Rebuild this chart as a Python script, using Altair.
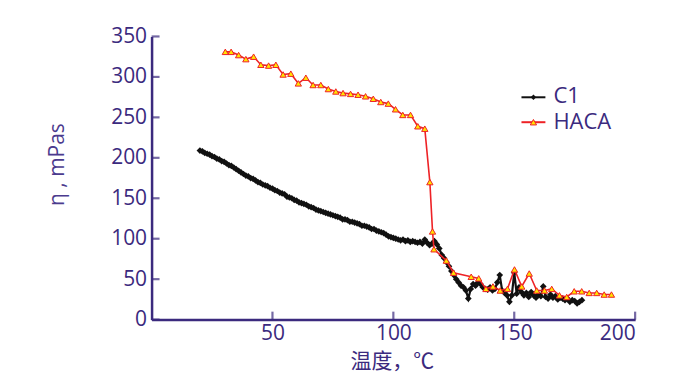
import altair as alt
import pandas as pd

# ---- data ----
c1_temp = [20, 21, 22, 23, 24, 25, 26, 27, 28, 29, 30, 31, 32, 33, 34, 35, 36, 37, 38, 39,
           40, 41, 42, 43, 44, 45, 46, 47, 48, 49, 50, 51, 52, 53, 54, 55, 56, 57, 58, 59,
           60, 61, 62, 63, 64, 65, 66, 67, 68, 69, 70, 71, 72, 73, 74, 75, 76, 77, 78, 79,
           80, 81, 82, 83, 84, 85, 86, 87, 88, 89, 90, 91, 92, 93, 94, 95, 96, 97, 98, 99,
           100, 101, 102, 103, 104, 105, 106, 107, 108, 109, 110, 111, 112, 113, 114, 115, 116, 117, 118, 119,
           120, 121, 122, 123, 124, 125, 126, 127, 128, 129, 130, 131, 132, 133, 134, 135, 136, 137, 138, 139,
           140, 141, 142, 143, 144, 145, 146, 147, 148, 149, 150, 151, 152, 153, 154, 155, 156, 157, 158, 159,
           160, 161, 162, 163, 164, 165, 166, 167, 168, 169, 170, 171, 172, 173, 174, 175, 176, 177, 178]
c1_visc = [209, 208, 206, 205, 204, 202, 201, 199, 198, 196, 195, 193, 191, 190, 188, 186, 184, 182, 180, 178,
           177, 175, 174, 172, 170, 169, 167, 166, 165, 163, 162, 160, 159, 157, 156, 155, 152, 151, 150, 148,
           147, 145, 144, 143, 142, 140, 139, 138, 136, 135, 134, 133, 132, 131, 130, 129, 128, 127, 126, 124,
           124, 123, 121, 121, 120, 119, 118, 116, 116, 115, 114, 112, 112, 110, 109, 108, 107, 105, 103, 102,
           101, 100, 99, 98, 99, 97, 98, 96, 97, 96, 95, 96, 94, 99, 95, 92, 94, 97, 93, 88,
           80, 76, 71, 66, 60, 55, 50, 46, 42, 40, 36, 26, 38, 44, 42, 46, 44, 40, 38, 37,
           40, 36, 38, 46, 55, 36, 33, 30, 22, 30, 58, 32, 40, 34, 30, 33, 28, 34, 30, 27,
           31, 29, 41, 28, 26, 31, 27, 29, 25, 27, 26, 24, 26, 22, 24, 23, 20, 22, 24]

haca_temp = [30.5, 32.9, 36.0, 39.0, 42.2, 45.2, 48.4, 51.4, 54.4, 57.6, 60.7, 63.8, 66.8, 70.0,
             73.1, 76.2, 79.2, 82.3, 85.4, 88.5, 91.7, 94.8, 97.9, 100.9, 103.9, 107.1, 110.1, 113.0,
             115.1, 116.2, 116.8, 121.9, 124.9, 132.2, 135.3, 138.3, 141.2, 144.2, 147.2, 150.1,
             153.1, 156.2, 159.3, 162.5, 165.5, 168.7, 171.7, 174.8, 177.9, 181.0, 184.1, 187.2, 190.2]
haca_visc = [331, 331, 327, 322, 325, 315, 314, 315, 303, 304, 292, 299, 290, 290,
             285, 282, 280, 279, 278, 276, 273, 269, 267, 260, 253, 253, 239, 236,
             170, 109, 87, 73, 58, 53, 51, 38, 41, 36, 38, 62,
             41, 57, 36, 36, 38, 30, 28, 35, 35, 33, 33, 31, 31]

x_ticks = [0, 50, 100, 150, 200]
y_ticks = [0, 50, 100, 150, 200, 250, 300, 350]
legend_names = ["C1", "HACA"]

AXIS = "#3b2a7e"
TITLE = "#4b3b8e"
RED = "#ee2226"

W, H = 485, 284

c1 = pd.DataFrame({"t": c1_temp, "v": c1_visc})
haca = pd.DataFrame({"t": haca_temp, "v": haca_visc})

xs = alt.Scale(domain=[0, 200], nice=False, zero=False)
ys = alt.Scale(domain=[0, 350], nice=False)

x_axis = alt.Axis(values=x_ticks, ticks=False, grid=False, domainColor=AXIS, domainWidth=2.5,
                  labelColor=AXIS, labelFont="Open Sans", labelFontSize=21, labelPadding=3,
                  labelExpr="datum.value == 0 ? '' : datum.label",
                  title="温度，℃", titleFont="Noto Sans CJK SC", titleFontSize=21,
                  titleFontWeight="normal", titleColor=AXIS, titleX=241, titleY=42,
                  titleBaseline="middle")
y_axis = alt.Axis(values=y_ticks, ticks=False, grid=False, domainColor=AXIS, domainWidth=2.5,
                  labelColor=AXIS, labelFont="Open Sans", labelFontSize=21, labelPadding=5,
                  title="η , mPas", titleFont="Open Sans", titleFontSize=21,
                  titleFontWeight="normal", titleColor=TITLE, titleX=-94, titleY=128,
                  titleBaseline="middle", titleAngle=-90)

X = alt.X("t:Q", scale=xs, axis=x_axis)
Y = alt.Y("v:Q", scale=ys, axis=y_axis)

c1_line = alt.Chart(c1).mark_line(color="#111111", strokeWidth=2.2).encode(x=X, y=Y)
c1_pts = alt.Chart(c1).mark_point(shape="diamond", filled=True, color="#111111", size=45,
                                  opacity=1).encode(x=X, y=Y)
haca_line = alt.Chart(haca).mark_line(color=RED, strokeWidth=1.6).encode(x=X, y=Y)
haca_pts = alt.Chart(haca).mark_point(shape="triangle-up", filled=True, fill="#ffe400", stroke=RED,
                                      strokeWidth=1, size=40, opacity=1).encode(x=X, y=Y)

ytick_df = pd.DataFrame({"v": y_ticks})
xtick_df = pd.DataFrame({"t": x_ticks[1:]})
y_tick_marks = alt.Chart(ytick_df).mark_tick(orient="horizontal", size=8, thickness=2.2, color=AXIS).encode(
    y=Y, x=alt.value(4))
x_tick_marks = alt.Chart(xtick_df).mark_tick(orient="vertical", size=8, thickness=2.2, color=AXIS).encode(
    x=X, y=alt.value(H - 4))

# manual legend
leg = pd.DataFrame({"name": legend_names})
leg_c1 = leg[leg.name == "C1"]
leg_haca = leg[leg.name == "HACA"]
l1_rule = alt.Chart(leg_c1).mark_rule(color="#111111", strokeWidth=2).encode(
    x=alt.value(371), x2=alt.value(395), y=alt.value(61))
l1_pt = alt.Chart(leg_c1).mark_point(shape="diamond", filled=True, color="#111111", size=30, opacity=1).encode(
    x=alt.value(383), y=alt.value(61))
l2_rule = alt.Chart(leg_haca).mark_rule(color=RED, strokeWidth=2).encode(
    x=alt.value(371), x2=alt.value(395), y=alt.value(86))
l2_pt = alt.Chart(leg_haca).mark_point(shape="triangle-up", filled=True, fill="#ffe400", stroke=RED,
                                       strokeWidth=1, size=40, opacity=1).encode(
    x=alt.value(383), y=alt.value(86))
l1_txt = alt.Chart(leg_c1).mark_text(align="left", baseline="middle", font="Open Sans", fontSize=22,
                                     color=AXIS).encode(x=alt.value(403), y=alt.value(60), text="name:N")
l2_txt = alt.Chart(leg_haca).mark_text(align="left", baseline="middle", font="Open Sans", fontSize=22,
                                       color=AXIS).encode(x=alt.value(403), y=alt.value(86), text="name:N")

chart = alt.layer(
    c1_line, c1_pts, haca_line, haca_pts, y_tick_marks, x_tick_marks,
    l1_rule, l1_pt, l2_rule, l2_pt, l1_txt, l2_txt,
).properties(
    width=W, height=H,
    autosize=alt.AutoSizeParams(type="none"),
    padding={"left": 144, "top": 28, "right": 45, "bottom": 56},
    background="white",
).configure_view(stroke=None)

chart.save("out.html", embed_options={"renderer": "svg", "actions": False})
